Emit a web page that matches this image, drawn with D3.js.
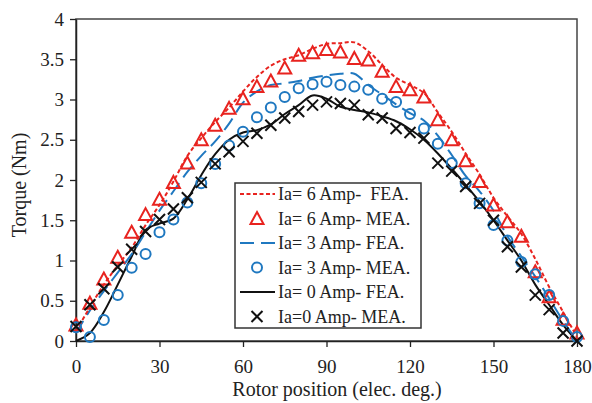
<!DOCTYPE html>
<html>
<head>
<meta charset="utf-8">
<script src="https://cdn.jsdelivr.net/npm/d3@7"></script>
<style>
  html, body { margin: 0; padding: 0; background: #fff; }
  svg text { font-family: "Liberation Serif", "DejaVu Serif", "Times New Roman", serif !important; }
</style>
</head>
<body>
<svg id="chart" width="592" height="403"></svg>
<script>
// Rotor position (electrical degrees) for all series
const angles = d3.range(0, 181, 5);

// FEA curves (Nm)
const fea6 = [0.12, 0.42, 0.70, 0.94, 1.16, 1.44, 1.69, 1.98, 2.30, 2.52, 2.72, 2.90, 3.10, 3.28, 3.42, 3.50, 3.55, 3.63, 3.69, 3.70, 3.71, 3.60, 3.43, 3.27, 3.18, 3.08, 2.84, 2.60, 2.33, 2.07, 1.78, 1.55, 1.33, 1.02, 0.67, 0.36, 0.05];
const fea3 = [0.10, 0.38, 0.62, 0.85, 1.08, 1.35, 1.62, 1.86, 2.10, 2.30, 2.48, 2.70, 2.96, 3.10, 3.18, 3.20, 3.23, 3.27, 3.30, 3.32, 3.32, 3.18, 3.06, 2.94, 2.83, 2.74, 2.55, 2.31, 2.05, 1.86, 1.62, 1.30, 1.05, 0.80, 0.53, 0.25, 0.00];
const fea0 = [0.00, 0.10, 0.36, 0.70, 1.05, 1.38, 1.46, 1.52, 1.76, 2.06, 2.32, 2.50, 2.59, 2.62, 2.69, 2.82, 2.93, 3.05, 3.01, 2.91, 2.87, 2.84, 2.79, 2.73, 2.63, 2.50, 2.33, 2.14, 1.94, 1.73, 1.50, 1.25, 1.00, 0.70, 0.45, 0.20, 0.00];

// Measured points (Nm)
const mea6 = [0.20, 0.47, 0.77, 1.04, 1.35, 1.57, 1.76, 1.97, 2.21, 2.50, 2.68, 2.89, 3.01, 3.16, 3.23, 3.39, 3.55, 3.58, 3.62, 3.59, 3.51, 3.49, 3.35, 3.16, 3.12, 3.03, 2.75, 2.50, 2.24, 1.98, 1.69, 1.48, 1.30, 0.86, 0.55, 0.27, 0.10];
const mea3 = [0.17, 0.05, 0.26, 0.57, 0.91, 1.08, 1.35, 1.51, 1.72, 1.96, 2.20, 2.43, 2.60, 2.78, 2.90, 3.03, 3.14, 3.19, 3.22, 3.18, 3.16, 3.12, 3.01, 2.97, 2.82, 2.64, 2.45, 2.21, 1.96, 1.71, 1.44, 1.25, 0.98, 0.83, 0.57, 0.25, 0.05];
const mea0 = [0.18, 0.45, 0.65, 0.92, 1.14, 1.36, 1.51, 1.64, 1.78, 1.97, 2.20, 2.35, 2.48, 2.58, 2.68, 2.77, 2.85, 2.93, 2.97, 2.95, 2.93, 2.81, 2.77, 2.64, 2.59, 2.52, 2.21, 2.11, 1.92, 1.71, 1.50, 1.17, 0.92, 0.57, 0.39, 0.10, 0.00];

// Axis ticks
const xTicks = [0, 30, 60, 90, 120, 150, 180];
const yTicks = [0, 0.5, 1, 1.5, 2, 2.5, 3, 3.5, 4];

const legendLabels = [
  "Ia= 6 Amp-  FEA.",
  "Ia= 6 Amp- MEA.",
  "Ia= 3 Amp- FEA.",
  "Ia= 3 Amp- MEA.",
  "Ia= 0 Amp- FEA.",
  "Ia=0 Amp- MEA."
];

const RED = "#e8231f", BLUE = "#1f78c0", BLACK = "#111";
const SERIF = "'Liberation Serif', 'DejaVu Serif', 'Times New Roman', serif";

const svg = d3.select("#chart");
svg.append("rect").attr("width", 592).attr("height", 403).attr("fill", "#fff");

const x = d3.scaleLinear().domain([0, 180]).range([76, 577]);
const y = d3.scaleLinear().domain([0, 4]).range([341, 19]);

// Plot frame
svg.append("rect")
  .attr("x", x(0)).attr("y", y(4))
  .attr("width", x(180) - x(0)).attr("height", y(0) - y(4))
  .attr("fill", "none").attr("stroke", "#444").attr("stroke-width", 1.5);

// Axes
const xAxis = svg.append("g").attr("transform", `translate(0,${y(0)})`)
  .call(d3.axisBottom(x).tickValues(xTicks).tickFormat(d3.format("d"))
    .tickSize(6).tickSizeOuter(0).tickPadding(13));
const yAxis = svg.append("g").attr("transform", `translate(${x(0)},0)`)
  .call(d3.axisLeft(y).tickValues(yTicks).tickFormat(d => String(d))
    .tickSize(6).tickSizeOuter(0).tickPadding(6));
[xAxis, yAxis].forEach(g => {
  g.attr("font-family", SERIF).attr("font-size", 19);
  g.select(".domain").attr("stroke", "#222").attr("stroke-width", 1.5);
  g.selectAll(".tick line").attr("stroke", "#222").attr("stroke-width", 1.3);
  g.selectAll(".tick text").attr("fill", "#222")
    .style("font-family", SERIF).style("font-size", "19px");
});

// Axis titles
svg.append("text").attr("x", 337).attr("y", 396).attr("text-anchor", "middle")
  .attr("fill", "#222").style("font-family", SERIF).style("font-size", "20px")
  .text("Rotor position (elec. deg.)");
svg.append("text").attr("transform", "translate(26,185) rotate(-90)")
  .attr("text-anchor", "middle").attr("fill", "#222")
  .style("font-family", SERIF).style("font-size", "20px")
  .text("Torque (Nm)");

// FEA curves
const line = vals => d3.line()
  .x((d, i) => x(angles[i])).y(d => y(d))
  .curve(d3.curveCatmullRom.alpha(0.5))(vals);

svg.append("path").attr("d", line(fea0)).attr("fill", "none")
  .attr("stroke", BLACK).attr("stroke-width", 2);
svg.append("path").attr("d", line(fea3)).attr("fill", "none")
  .attr("stroke", BLUE).attr("stroke-width", 2).attr("stroke-dasharray", "14,7");
svg.append("path").attr("d", line(fea6)).attr("fill", "none")
  .attr("stroke", RED).attr("stroke-width", 2).attr("stroke-dasharray", "4,2.5");

// Marker drawing helpers
const triPath = "M0,-6.5L6.5,5.5L-6.5,5.5Z";
const xPath = "M-5.5,-5.5L5.5,5.5M-5.5,5.5L5.5,-5.5";

function drawTri(g, cx, cy) {
  g.append("path").attr("d", triPath).attr("transform", `translate(${cx},${cy})`)
    .attr("fill", "none").attr("stroke", RED).attr("stroke-width", 2);
}
function drawCirc(g, cx, cy) {
  g.append("circle").attr("cx", cx).attr("cy", cy).attr("r", 5)
    .attr("fill", "none").attr("stroke", BLUE).attr("stroke-width", 2);
}
function drawX(g, cx, cy) {
  g.append("path").attr("d", xPath).attr("transform", `translate(${cx},${cy})`)
    .attr("fill", "none").attr("stroke", BLACK).attr("stroke-width", 2);
}

const mk = svg.append("g");
mea6.forEach((v, i) => drawTri(mk, x(angles[i]), y(v)));
mea3.forEach((v, i) => drawCirc(mk, x(angles[i]), y(v)));
mea0.forEach((v, i) => drawX(mk, x(angles[i]), y(v)));

// Legend
const lg = svg.append("g");
lg.append("rect").attr("x", 235).attr("y", 183).attr("width", 186).attr("height", 145)
  .attr("fill", "#fff").attr("stroke", "#333").attr("stroke-width", 1.5);
const rowY = i => 194 + i * 24.5;
legendLabels.forEach((t, i) => {
  const cy = rowY(i);
  if (i === 0) lg.append("line").attr("x1", 240).attr("x2", 275).attr("y1", cy).attr("y2", cy)
    .attr("stroke", RED).attr("stroke-width", 2).attr("stroke-dasharray", "4,2.5");
  if (i === 1) drawTri(lg, 257, cy);
  if (i === 2) lg.append("line").attr("x1", 240).attr("x2", 275).attr("y1", cy).attr("y2", cy)
    .attr("stroke", BLUE).attr("stroke-width", 2).attr("stroke-dasharray", "14,7");
  if (i === 3) drawCirc(lg, 257, cy);
  if (i === 4) lg.append("line").attr("x1", 240).attr("x2", 275).attr("y1", cy).attr("y2", cy)
    .attr("stroke", BLACK).attr("stroke-width", 2);
  if (i === 5) drawX(lg, 257, cy);
  lg.append("text").attr("x", 278).attr("y", cy).attr("dy", "0.35em")
    .attr("fill", "#222").style("font-family", SERIF).style("font-size", "18px")
    .style("white-space", "pre").text(t);
});
</script>
</body>
</html>
